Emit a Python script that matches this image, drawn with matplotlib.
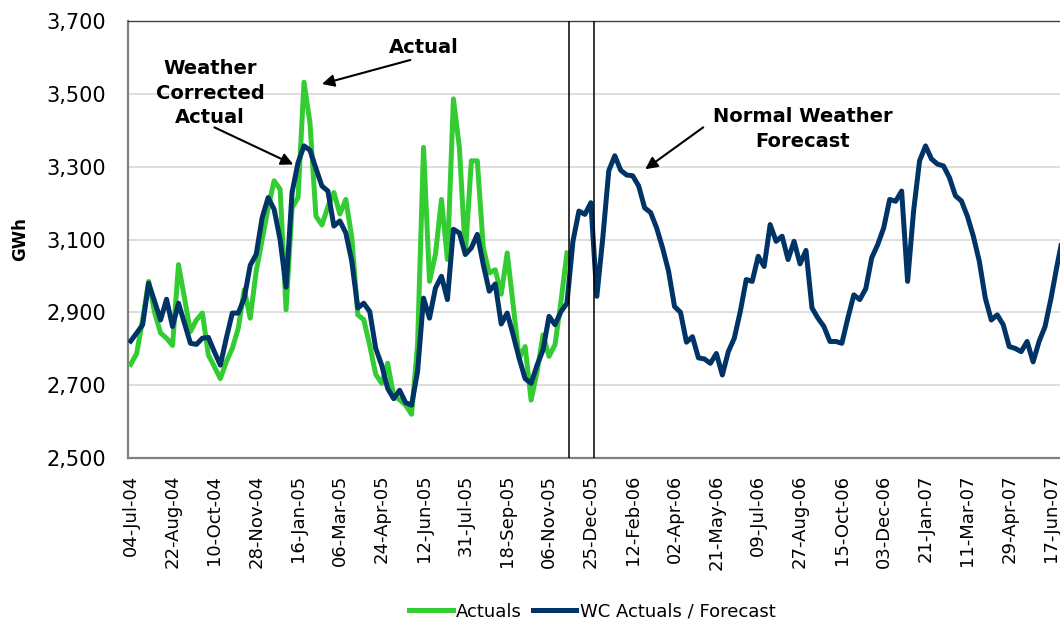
import numpy as np
import pandas as pd
import matplotlib
matplotlib.use('Agg')
import matplotlib.pyplot as plt
from matplotlib.ticker import FuncFormatter

plt.close('all')

# Weekly energy, GWh (weeks starting 04-Jul-04)
start_date = '2004-07-04'

actuals = [2757, 2787, 2880, 2985, 2900, 2843, 2829, 2809, 3031, 2939,
           2847, 2879, 2898, 2783, 2751, 2718, 2764, 2801, 2856, 2962,
           2884, 3013, 3100, 3187, 3261, 3238, 2907, 3187, 3215, 3532,
           3420, 3164, 3140, 3190, 3229, 3170, 3210, 3105, 2893, 2880,
           2809, 2730, 2705, 2760, 2670, 2660, 2645, 2620, 2810, 3353,
           2985, 3060, 3210, 3045, 3486, 3353, 3059, 3316, 3316, 3077,
           3008, 3017, 2950, 3063, 2920, 2774, 2806, 2659, 2737, 2838,
           2779, 2811, 2930, 3063]

wc_forecast = [2821, 2843, 2866, 2980, 2930, 2879, 2936, 2861, 2925, 2870,
               2815, 2812, 2829, 2831, 2792, 2755, 2829, 2898, 2898, 2939,
               3029, 3059, 3160, 3215, 3183, 3100, 2969, 3229, 3311, 3357,
               3345, 3295, 3247, 3233, 3137, 3151, 3118, 3040, 2912, 2925,
               2902, 2801, 2755, 2691, 2663, 2686, 2652, 2645, 2737, 2939,
               2884, 2967, 2999, 2935, 3128, 3118, 3059, 3077, 3114, 3031,
               2958, 2978, 2868, 2898, 2838, 2774, 2718, 2705, 2755, 2797,
               2889, 2866, 2902, 2925, 3095, 3178, 3169, 3201, 2944, 3105,
               3289, 3330, 3290, 3277, 3275, 3247, 3187, 3174, 3132, 3077,
               3013, 2916, 2900, 2818, 2833, 2775, 2772, 2760, 2787, 2728,
               2792, 2829, 2902, 2990, 2985, 3054, 3026, 3141, 3095, 3109,
               3045, 3095, 3033, 3070, 2912, 2884, 2861, 2820, 2820, 2815,
               2884, 2948, 2935, 2965, 3050, 3086, 3132, 3210, 3205, 3233,
               2985, 3178, 3316, 3357, 3321, 3307, 3302, 3270, 3220, 3206,
               3164, 3109, 3040, 2939, 2879, 2893, 2866, 2806, 2801, 2792,
               2820, 2764, 2820, 2861, 2939, 3028, 3110]

# week index where actuals end and forecast begins
dividers = [73.35, 77.55]

weeks = pd.date_range(start_date, periods=len(wc_forecast), freq='7D')
x_wc = np.arange(len(wc_forecast))
x_act = np.arange(len(actuals))
tick_idx = np.arange(0, 155, 7)
tick_labels = [weeks[i].strftime('%d-%b-%y') for i in tick_idx]

green = '#33CC33'
navy = '#003366'

fig = plt.figure(figsize=(10.6, 6.24), dpi=100)
ax = fig.add_axes([128 / 1060, 166 / 624, 932 / 1060, 437 / 624])

ax.plot(x_act, actuals, color=green, lw=3.6, label='Actuals', zorder=3)
ax.plot(x_wc, wc_forecast, color=navy, lw=3.6, label='WC Actuals / Forecast', zorder=4)

for d in dividers:
    ax.axvline(d, color='black', lw=1.1, zorder=5)

ax.set_xlim(-0.45, 155.5)
ax.set_ylim(2500, 3700)
ax.set_yticks(np.arange(2500, 3701, 200))
ax.yaxis.set_major_formatter(FuncFormatter(lambda v, p: f'{int(v):,}'))
ax.set_xticks(tick_idx)
ax.set_xticklabels(tick_labels, rotation=90, fontsize=13)
ax.tick_params(axis='y', length=0, pad=16, labelsize=15)
ax.tick_params(axis='x', length=0, pad=12)
ax.grid(axis='y', color='#d4d4d4', lw=1.1)
ax.set_axisbelow(True)

for side in ['left', 'bottom']:
    ax.spines[side].set_color('#808080')
    ax.spines[side].set_linewidth(1.6)
ax.spines['top'].set_color('#404040')
ax.spines['top'].set_linewidth(1.0)
ax.spines['right'].set_visible(False)

ax.set_ylabel('GWh', fontsize=12, fontweight='bold')
ax.yaxis.set_label_coords(-0.106, 0.5)

# callouts
bold = dict(fontsize=14, fontweight='bold', ha='center', va='center', linespacing=1.38)
arrow = dict(arrowstyle='-|>', color='black', lw=1.5, mutation_scale=18, shrinkA=0, shrinkB=0)

ax.text(13.3, 3502, 'Weather\nCorrected\nActual', **bold)
ax.annotate('', xy=(27.2, 3306), xytext=(14.0, 3408), arrowprops=arrow)

ax.text(49.1, 3628, 'Actual', **bold)
ax.annotate('', xy=(32.0, 3527), xytext=(46.8, 3593), arrowprops=arrow)

ax.text(112.5, 3404, 'Normal Weather\nForecast', **bold)
ax.annotate('', xy=(86.1, 3293), xytext=(95.8, 3408), arrowprops=arrow)

fig.legend(loc='center', bbox_to_anchor=(0.559, 0.02), ncol=2, frameon=False,
           fontsize=13, handlelength=2.4, handletextpad=0.2, columnspacing=0.6)

fig.savefig('out.png', dpi=100)
